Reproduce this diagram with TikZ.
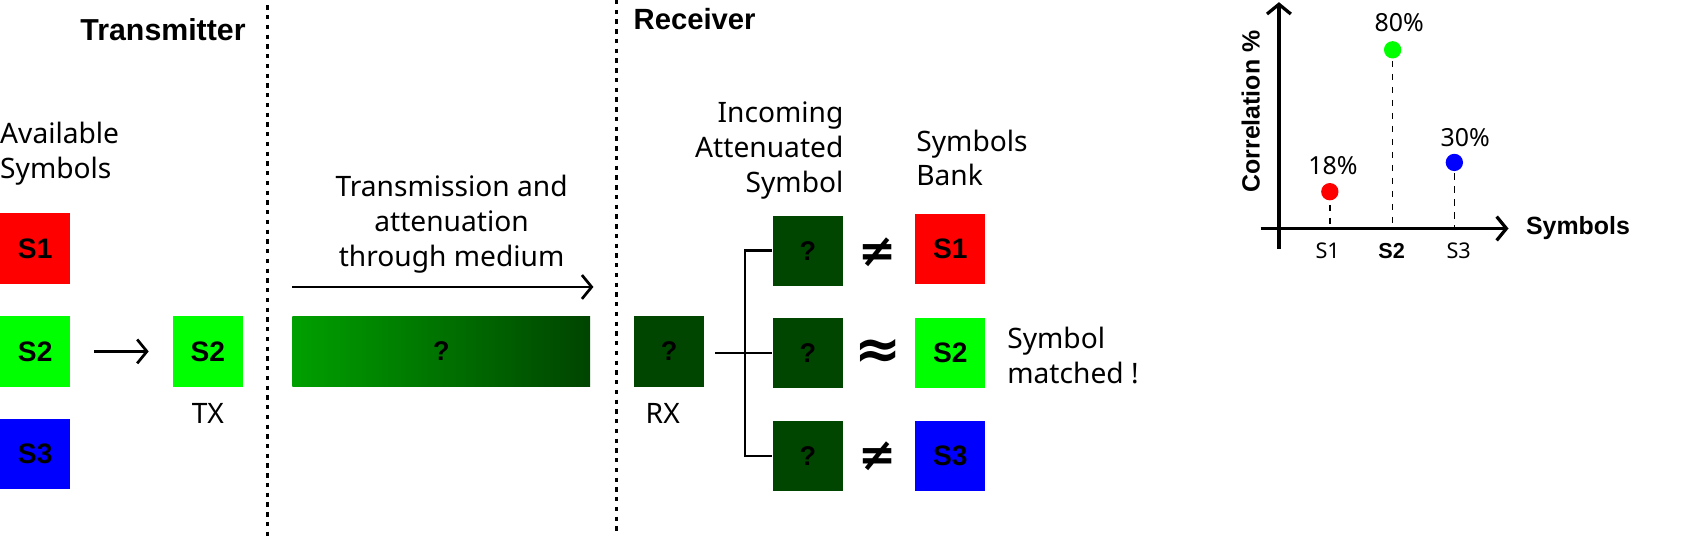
\documentclass[tikz,border=0pt]{standalone}
\usepackage{fontspec}
\setmainfont{Noto Sans}[BoldFont={Liberation Sans Bold}]
\newfontfamily\symfont{DejaVu Sans Bold}
\usetikzlibrary{arrows.meta}
\definecolor{sred}{RGB}{255,0,0}
\definecolor{sgreen}{RGB}{0,255,0}
\definecolor{sblue}{RGB}{0,0,255}
\definecolor{dkgreen}{RGB}{0,70,0}
\definecolor{midgreenA}{RGB}{0,160,0}
\definecolor{midgreenB}{RGB}{0,68,0}
\tikzset{
  sq/.style={minimum width=65pt, minimum height=65pt, inner sep=0pt, font=\bfseries\fontsize{26}{26}\selectfont},
  qbox/.style={sq, fill=dkgreen, font=\bfseries\fontsize{25}{25}\selectfont},
  txt/.style={inner sep=0pt, font=\fontsize{26}{32}\selectfont},
  hd/.style={inner sep=0pt, font=\bfseries\fontsize{28}{30}\selectfont},
  divider/.style={line width=3pt, dash pattern=on 4pt off 5pt},
  arr/.style={line width=2.5pt, -{Straight Barb[length=9pt,width=22pt]}},
  conn/.style={line width=2.5pt},
  rel/.style={inner sep=0pt, font=\symfont\fontsize{42}{42}\selectfont},
  dot/.style={circle, minimum size=16pt, inner sep=0pt},
  dsh/.style={line width=1.5pt, dash pattern=on 6pt off 6pt},
  axis/.style={line width=3pt},
  small/.style={inner sep=0pt, font=\fontsize{23}{23}\selectfont},
  tick/.style={inner sep=0pt, font=\fontsize{20}{20}\selectfont},
}
\begin{document}
\begin{tikzpicture}[x=1pt,y=-1pt]
\useasboundingbox (0,0) rectangle (1568,499);
% dividers
\draw[divider] (247,5) -- (247,499);
\draw[divider] (569,0) -- (569,492);
% headings
\node[hd, anchor=east] (thead) at (227,27) {Transmitter};
\node[hd, anchor=west, font=\bfseries\fontsize{27}{30}\selectfont] (rhead) at (585,18) {Receiver};
% transmitter
\node[txt, anchor=west, align=left] (avail) at (0,142) {Available\\Symbols};
\node[sq, fill=sred] (s1) at (32.5,229.5) {S1};
\node[sq, fill=sgreen] (s2) at (32.5,324.5) {S2};
\node[sq, fill=sblue] (s3) at (32.5,419.5) {S3};
\node[sq, fill=sgreen] (tx) at (192,324.5) {S2};
\node[txt] (txl) at (192,382) {TX};
\draw[arr, shorten <=22pt, shorten >=22pt] (s2.east) -- (tx.west);
% medium
\node[txt, align=center] (mtxt) at (417,207) {Transmission and\\attenuation\\through medium};
\coordinate (m0) at (270,265);
\coordinate (m1) at (548,265);
\draw[arr] (m0) -- (m1);
\node[minimum width=275pt, minimum height=65pt, inner sep=0pt, left color=midgreenA, right color=midgreenB, font=\bfseries\fontsize{25}{25}\selectfont] (med) at (407.5,324.5) {?};
% receiver
\node[qbox] (rx) at (618,324.5) {?};
\node[txt] (rxl) at (612,382) {RX};
\node[txt, anchor=east, align=right] (inc) at (779,139) {Incoming\\Attenuated\\Symbol};
\node[qbox] (q1) at (746,231.5) {?};
\node[qbox] (q2) at (746,326) {?};
\node[qbox] (q3) at (746,421) {?};
\coordinate (br) at (688,326);
\draw[conn, shorten <=10pt] (rx.east |- q2.west) -- (q2.west);
\draw[conn] (q1.west) -| (br) |- (q3.west);
\node[rel] (r1) at (810,233) {≠};
\node[rel, font=\symfont\fontsize{52}{52}\selectfont] (r2) at (811,327) {≈};
\node[rel] (r3) at (810,421) {≠};
\node[txt, anchor=west, align=left] (bank) at (846,146) {Symbols\\Bank};
\node[sq, fill=sred] (b1) at (877.5,230) {S1};
\node[sq, fill=sgreen] (b2) at (877.5,326) {S2};
\node[sq, fill=sblue] (b3) at (877.5,421) {S3};
\node[txt, anchor=west, align=left] (match) at (930,328) {Symbol\\matched !};
% chart
\coordinate (yb) at (1181,230);
\coordinate (yt) at (1181,2);
\coordinate (xl) at (1164,211);
\coordinate (xr) at (1393,211);
\draw[axis, -{Straight Barb[length=9pt,width=22pt]}] (yb) -- (yt);
\draw[axis, -{Straight Barb[length=9pt,width=22pt]}] (xl) -- (xr);
\node[hd, anchor=west, font=\bfseries\fontsize{23}{23}\selectfont] (xlab) at (1409,211) {Symbols};
\node[hd, rotate=90, font=\bfseries\fontsize{23}{23}\selectfont] (ylab) at (1155,103) {Correlation \%};
\node[dot, fill=sred] (d1) at (1228,177) {};
\node[dot, fill=sgreen] (d2) at (1286,46) {};
\node[dot, fill=sblue] (d3) at (1343,150) {};
\coordinate (a1) at (1228,211);
\coordinate (a2) at (1286,211);
\coordinate (a3) at (1343,211);
\draw[dsh, shorten <=4pt] (d1.south) -- (a1);
\draw[dsh, shorten <=2pt] (d2.south) -- (a2);
\draw[dsh, shorten <=2pt] (d3.south) -- (a3);
\node[small] (p1) at (1231,153) {18\%};
\node[small] (p2) at (1292,21) {80\%};
\node[small] (p3) at (1353,127) {30\%};
\node[tick] (t1) at (1226,232) {S1};
\node[tick, font=\bfseries\fontsize{20}{20}\selectfont] (t2) at (1285,232) {S2};
\node[tick] (t3) at (1347,232) {S3};
\end{tikzpicture}
\end{document}
